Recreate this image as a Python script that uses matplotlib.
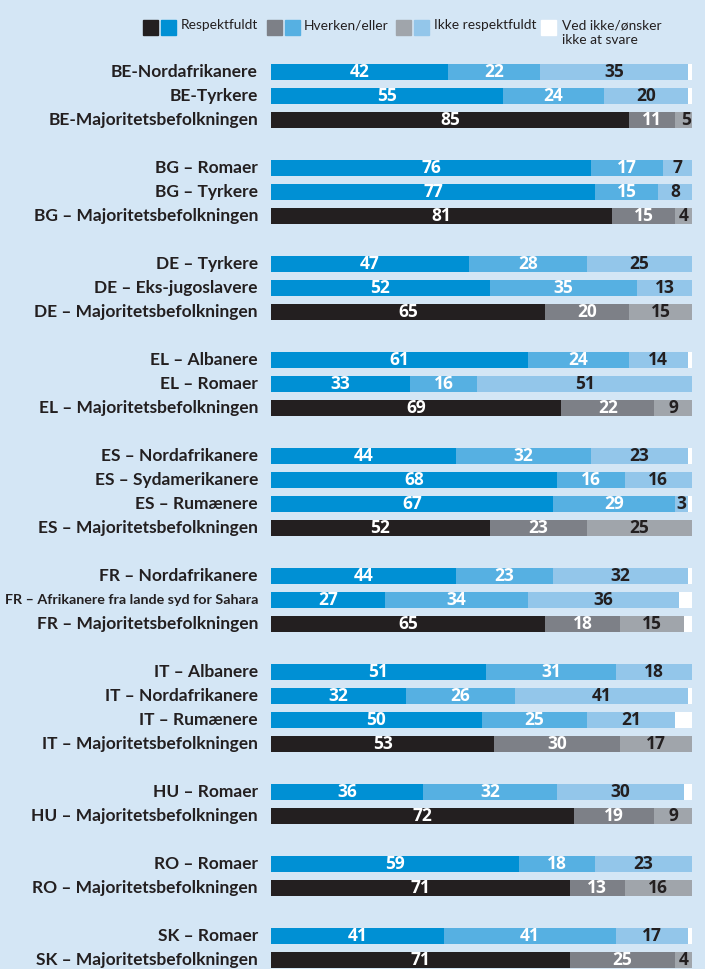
import numpy as np
import matplotlib.pyplot as plt
from matplotlib.patches import Rectangle

# --- Data ---
groups = [
    ["BE-Nordafrikanere", "BE-Tyrkere", "BE-Majoritetsbefolkningen"],
    ["BG – Romaer", "BG – Tyrkere", "BG – Majoritetsbefolkningen"],
    ["DE – Tyrkere", "DE – Eks-jugoslavere", "DE – Majoritetsbefolkningen"],
    ["EL – Albanere", "EL – Romaer", "EL – Majoritetsbefolkningen"],
    ["ES – Nordafrikanere", "ES – Sydamerikanere", "ES – Rumænere",
     "ES – Majoritetsbefolkningen"],
    ["FR – Nordafrikanere", "FR – Afrikanere fra lande syd for Sahara",
     "FR – Majoritetsbefolkningen"],
    ["IT – Albanere", "IT – Nordafrikanere", "IT – Rumænere",
     "IT – Majoritetsbefolkningen"],
    ["HU – Romaer", "HU – Majoritetsbefolkningen"],
    ["RO – Romaer", "RO – Majoritetsbefolkningen"],
    ["SK – Romaer", "SK – Majoritetsbefolkningen"],
]
respekt = [42, 55, 85, 76, 77, 81, 47, 52, 65, 61, 33, 69, 44, 68, 67, 52,
           44, 27, 65, 51, 32, 50, 53, 36, 72, 59, 71, 41, 71]
hverken = [22, 24, 11, 17, 15, 15, 28, 35, 20, 24, 16, 22, 32, 16, 29, 23,
           23, 34, 18, 31, 26, 25, 30, 32, 19, 18, 13, 41, 25]
ikke = [35, 20, 5, 7, 8, 4, 25, 13, 15, 14, 51, 9, 23, 16, 3, 25,
        32, 36, 15, 18, 41, 21, 17, 30, 9, 23, 16, 17, 4]
legend_labels = ["Respektfuldt", "Hverken/eller", "Ikke respektfuldt",
                 "Ved ikke/ønsker\nikke at svare"]

# --- Colours ---
bg = "#d4e6f5"
blue_cols = ["#0090d4", "#56b0e2", "#93c6ea"]
grey_cols = ["#231f20", "#7d8087", "#a0a5ab"]
dark_txt = "#231f20"

# slot positions: one empty slot between groups
labels, ypos, majority = [], [], []
slot = 0
for g in groups:
    for name in g:
        labels.append(name)
        ypos.append(slot)
        majority.append("Majoritet" in name)
        slot += 1
    slot += 1
ypos = np.array(ypos)

lbl_font = ["Lato", "DejaVu Sans"]

fig = plt.figure(figsize=(7.05, 9.69), dpi=100, facecolor=bg)
ax = fig.add_axes([271 / 705, 0, 421 / 705, 909 / 969])
ax.set_facecolor(bg)
renderer = fig.canvas.get_renderer()


def fit_factor(txt, max_px):
    w = txt.get_window_extent(renderer).width
    return min(1.0, max_px / w)


vals = np.array([respekt, hverken, ikke], dtype=float)
rest = np.clip(100 - vals.sum(axis=0), 0, None)
h = 0.67

for i, y in enumerate(ypos):
    cols = grey_cols if majority[i] else blue_cols
    left = 0
    for k in range(3):
        v = vals[k, i]
        ax.barh(y, v, left=left, height=h, color=cols[k], linewidth=0)
        tc = dark_txt if k == 2 else "white"
        ax.text(left + v / 2, y, f"{int(v)}", ha="center", va="center",
                color=tc, fontsize=12.5, fontweight="bold",
                family=["Open Sans", "DejaVu Sans"])
        left += v
    if rest[i] > 0:
        ax.barh(y, rest[i], left=left, height=h, color="white", linewidth=0)
    t = ax.text(-3.1, y, labels[i], ha="right", va="center", fontsize=12.5,
                fontweight="bold", color=dark_txt, family=lbl_font,
                clip_on=False)
    t.set_fontsize(12.5 * fit_factor(t, 254))

ax.set_xlim(0, 100)
ax.set_ylim((969 - 72) / 24, -0.5)
ax.axis("off")

# --- Legend ---
def fpos(px, py):
    return px / 705, 1 - py / 969

sq = 15
legend_items = [
    ([143, 161], [grey_cols[0], blue_cols[0]], 181, 82),
    ([267, 285], [grey_cols[1], blue_cols[1]], 304, 87),
    ([396, 414], [grey_cols[2], blue_cols[2]], 434, 102),
    ([541], ["white"], 562, 140),
]
leg_texts, factors = [], []
for (xs, cs, tx, maxw), lab in zip(legend_items, legend_labels):
    for x0, c in zip(xs, cs):
        fx, fy = fpos(x0, 20 + sq)
        fig.patches.append(Rectangle((fx, fy), sq / 705, sq / 969, color=c,
                                     transform=fig.transFigure, figure=fig))
    fx, fy = fpos(tx, 19)
    t = fig.text(fx, fy, lab, ha="left", va="top", fontsize=12, color=dark_txt,
                 family=lbl_font, linespacing=1.25)
    leg_texts.append(t)
    factors.append(fit_factor(t, maxw))
for t in leg_texts:
    t.set_fontsize(12 * min(factors))

fig.savefig("out.png", dpi=100, facecolor=bg)
